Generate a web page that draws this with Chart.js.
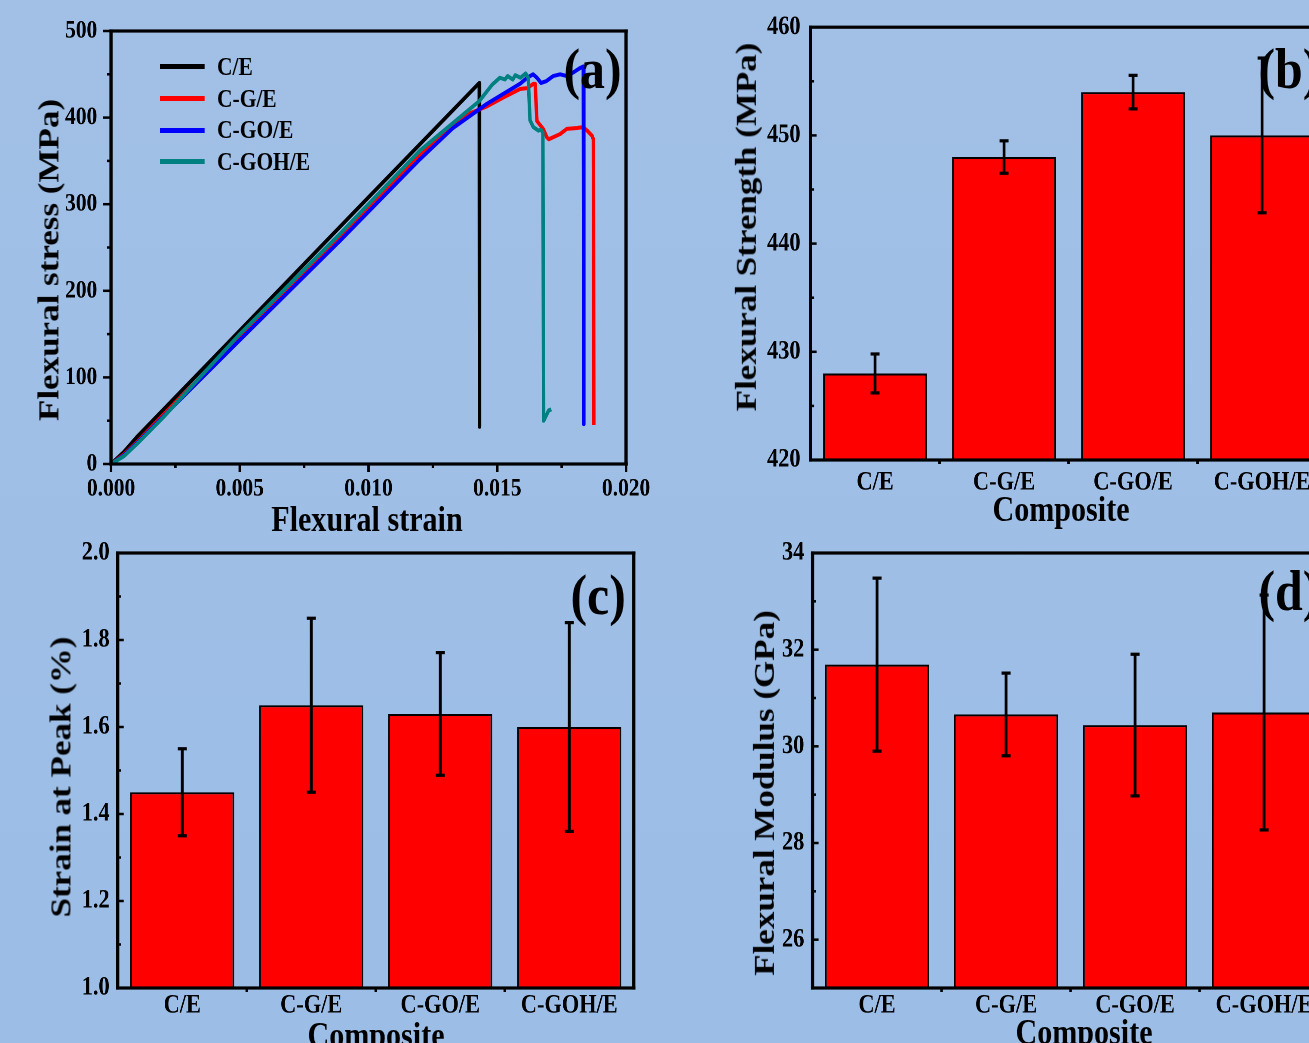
<!DOCTYPE html>
<html>
<head>
<meta charset="utf-8">
<script src="https://cdn.jsdelivr.net/npm/chart.js@4.4.1/dist/chart.umd.min.js"></script>
<style>
  html, body { margin:0; padding:0; }
  body { width:1309px; height:1043px; overflow:hidden; position:relative;
         background: linear-gradient(#a2c0e6, #9bbde6); }
  #fig { position:absolute; left:0; top:0; width:1700px; height:1100px;
         transform: scaleX(0.86); transform-origin: 0 0; }
  #fig canvas { position:absolute; }
  .t { position:absolute; font-family:'Liberation Serif','Times New Roman',serif; font-weight:bold;
       color:#000; line-height:1; white-space:nowrap; }
  .ln { position:absolute; }
</style>
</head>
<body>
<div id="fig"></div>
<script>
// ---------------- DATA ----------------
// (a) stress-strain curves
const strainCE   = [0, 0.0005, 0.001, 0.005, 0.010, 0.0143, 0.01431];
const stressCE   = [0, 14, 31, 154, 308, 440, 43];

const strainCGE  = [0, 0.0005, 0.001, 0.002, 0.005, 0.0089, 0.011, 0.012, 0.01328, 0.01394, 0.0146, 0.01522, 0.01588, 0.01616, 0.0164, 0.01647, 0.01654, 0.01678, 0.01693, 0.0170, 0.01744, 0.0177, 0.0181, 0.01833, 0.01849, 0.01868, 0.01873, 0.01875];
const stressCGE  = [0, 11, 25, 56, 146, 262, 327, 356, 393, 405, 413, 423, 433, 434, 439, 439, 396, 387, 377, 375, 381, 387, 388, 389, 385, 379, 375, 45];

const strainCGOE = [0, 0.0005, 0.001, 0.002, 0.005, 0.0089, 0.012, 0.01328, 0.0146, 0.01588, 0.01616, 0.01639, 0.01654, 0.0167, 0.0169, 0.01717, 0.01744, 0.0177, 0.01794, 0.0182, 0.01834, 0.01836];
const stressCGOE = [0, 10, 24, 54, 143, 258, 352, 388, 416, 439, 446, 450, 446, 440, 442, 448, 450, 448, 452, 457, 459, 46];

const strainCGOHE = [0, 0.0005, 0.001, 0.002, 0.005, 0.0089, 0.012, 0.0143, 0.0148, 0.0151, 0.0153, 0.0154, 0.0156, 0.0157, 0.0159, 0.0161, 0.0162, 0.01627, 0.0164, 0.0166, 0.0167, 0.01677, 0.0168, 0.0170, 0.0171];
const stressCGOHE = [0, 9, 23, 53, 150, 266, 362, 419, 438, 446, 444, 448, 444, 449, 446, 451, 446, 397, 389, 385, 386, 383, 50, 62, 63];

const seriesNames  = ['C/E', 'C-G/E', 'C-GO/E', 'C-GOH/E'];
const seriesColors = ['#000000', '#ff0000', '#0000ff', '#008080'];

const strainTicks      = [0, 0.005, 0.010, 0.015, 0.020];
const strainTickLabels = ['0.000', '0.005', '0.010', '0.015', '0.020'];
const strainMinor      = [0.0025, 0.0075, 0.0125, 0.0175];
const stressTicks      = [0, 100, 200, 300, 400, 500];
const stressTickLabels = ['0', '100', '200', '300', '400', '500'];
const stressMinor      = [50, 150, 250, 350, 450];

// (b)-(d) bar charts
const composites = ['C/E', 'C-G/E', 'C-GO/E', 'C-GOH/E'];

const strengthMean = [428, 448, 454, 450];
const strengthErr  = [1.8, 1.5, 1.55, 7.15];
const strengthTicks = [420, 430, 440, 450, 460];
const strengthTickLabels = ['420', '430', '440', '450', '460'];
const strengthMinor = [425, 435, 445, 455];

const peakStrainMean = [1.45, 1.65, 1.63, 1.60];
const peakStrainErr  = [0.10, 0.20, 0.141, 0.24];
const peakStrainTicks = [1.0, 1.2, 1.4, 1.6, 1.8, 2.0];
const peakStrainTickLabels = ['1.0', '1.2', '1.4', '1.6', '1.8', '2.0'];
const peakStrainMinor = [1.1, 1.3, 1.5, 1.7, 1.9];

const modulusMean = [31.69, 30.66, 30.44, 30.70];
const modulusErr  = [1.79, 0.855, 1.465, 2.43];
const modulusTicks = [26, 28, 30, 32, 34];
const modulusTickLabels = ['26', '28', '30', '32', '34'];
const modulusMinor = [27, 29, 31, 33];

// ---------------- LAYOUT HELPERS ----------------
const S = 0.86;
const FONT = "'Liberation Serif', 'Times New Roman', serif";
const fig = document.getElementById('fig');

function makeCanvas(rect) {
  const c = document.createElement('canvas');
  const w = Math.round(rect.w / S);
  c.width = w; c.height = rect.h;
  c.style.left = (rect.x / S) + 'px';
  c.style.top = rect.y + 'px';
  c.style.width = w + 'px'; c.style.height = rect.h + 'px';
  fig.appendChild(c);
  return c;
}
function geom(rect, area) {
  return {
    padding: { left: 0, top: area.t - rect.y, right: (rect.x + rect.w - area.r) / S, bottom: 0 },
    yWidth: (area.l - rect.x) / S,
    xHeight: rect.y + rect.h - area.b
  };
}
function decor(cfg) {
  return {
    id: 'decor',
    afterDraw(chart) {
      const ctx = chart.ctx, a = chart.chartArea, xs = chart.scales.x, ys = chart.scales.y;
      ctx.save();
      ctx.fillStyle = '#000';
      const tw = 2.5;
      const yTick = (v, len) => {
        const p = ys.getPixelForValue(v), L = len / S;
        ctx.fillRect(cfg.yIn ? a.left : a.left - L, p - tw / 2, L, tw);
      };
      (cfg.yMajor || []).forEach(v => yTick(v, cfg.majorLen));
      (cfg.yMinor || []).forEach(v => yTick(v, cfg.minorLen));
      const xTick = (p, len, dirIn) => {
        const w = tw / S;
        ctx.fillRect(p - w / 2, dirIn ? a.bottom - len : a.bottom, w, len);
      };
      (cfg.xMajor || []).forEach(v => xTick(xs.getPixelForValue(v), cfg.majorLen, cfg.xIn));
      (cfg.xMinor || []).forEach(v => xTick(xs.getPixelForValue(v), cfg.minorLen, cfg.xIn));
      if (cfg.catTicks) {
        const n = xs.ticks.length;
        for (let i = 0; i < n - 1; i++) {
          xTick((xs.getPixelForTick(i) + xs.getPixelForTick(i + 1)) / 2, 4, false);
        }
      }
      if (cfg.mean) {
        const meta = chart.getDatasetMeta(0);
        meta.data.forEach((bar, i) => {
          const x = bar.x;
          const top = ys.getPixelForValue(cfg.mean[i] + cfg.err[i]);
          const bot = ys.getPixelForValue(cfg.mean[i] - cfg.err[i]);
          const lw = 2.8 / S, cw = 9 / S;
          ctx.fillRect(x - lw / 2, top, lw, bot - top);
          ctx.fillRect(x - cw / 2, top - 1.6, cw, 3.2);
          ctx.fillRect(x - cw / 2, bot - 1.6, cw, 3.2);
        });
      }
      const fw = 3.2, hw = fw / S;
      ctx.fillRect(a.left - hw / 2, a.top - fw / 2, a.right - a.left + hw, fw);
      ctx.fillRect(a.left - hw / 2, a.bottom - fw / 2, a.right - a.left + hw, fw);
      ctx.fillRect(a.left - hw / 2, a.top - fw / 2, hw, a.bottom - a.top + fw);
      ctx.fillRect(a.right - hw / 2, a.top - fw / 2, hw, a.bottom - a.top + fw);
      ctx.restore();
    }
  };
}
function tickFont(size) { return { family: FONT, weight: 'bold', size: size }; }

// ---------------- PANEL (a) ----------------
(function () {
  const rect = { x: 0, y: 0, w: 700, h: 540 };
  const area = { l: 111, r: 626, t: 30, b: 464 };
  const g = geom(rect, area);
  const c = makeCanvas(rect);
  const strains = [strainCE, strainCGE, strainCGOE, strainCGOHE];
  const stresses = [stressCE, stressCGE, stressCGOE, stressCGOHE];
  const datasets = seriesNames.map((n, k) => ({
    label: n,
    data: strains[k].map((x, i) => ({ x: x, y: stresses[k][i] })),
    showLine: true, borderColor: seriesColors[k], backgroundColor: seriesColors[k],
    borderWidth: 4, pointRadius: 0, tension: 0, borderJoinStyle: 'round',
    order: 4 - k
  }));
  new Chart(c, {
    type: 'scatter',
    data: { datasets: datasets },
    options: {
      responsive: false, animation: false, devicePixelRatio: 2,
      layout: { padding: g.padding },
      plugins: { legend: { display: false }, tooltip: { enabled: false } },
      scales: {
        x: {
          type: 'linear', min: 0, max: 0.02,
          afterBuildTicks: s => { s.ticks = strainTicks.map(v => ({ value: v })); },
          afterFit: s => { s.height = g.xHeight; },
          grid: { display: false, drawTicks: false }, border: { display: false },
          ticks: { autoSkip: false, maxRotation: 0, padding: 10, color: '#000', font: tickFont(25),
                   callback: (v, i) => strainTickLabels[i] }
        },
        y: {
          type: 'linear', min: 0, max: 500,
          afterBuildTicks: s => { s.ticks = stressTicks.map(v => ({ value: v })); },
          afterFit: s => { s.width = g.yWidth; },
          grid: { display: false, drawTicks: false }, border: { display: false },
          ticks: { padding: 16, color: '#000', font: tickFont(25),
                   callback: (v, i) => stressTickLabels[i] }
        }
      }
    },
    plugins: [decor({ yIn: false, xIn: false, majorLen: 8, minorLen: 4,
                      yMajor: stressTicks, yMinor: stressMinor, xMajor: strainTicks, xMinor: strainMinor })]
  });
})();

// ---------------- BAR PANELS ----------------
function barPanel(rect, area, mean, err, yMin, yMax, ticks, labels, minor, yPad, xPad) {
  const g = geom(rect, area);
  const c = makeCanvas(rect);
  new Chart(c, {
    type: 'bar',
    data: { labels: composites,
            datasets: [{ data: mean, backgroundColor: '#ff0000', borderColor: '#000000',
                         borderWidth: 2, barPercentage: 0.806, categoryPercentage: 1.0 }] },
    options: {
      responsive: false, animation: false, devicePixelRatio: 2,
      layout: { padding: g.padding },
      plugins: { legend: { display: false }, tooltip: { enabled: false } },
      scales: {
        x: {
          type: 'category', offset: true,
          afterFit: s => { s.height = g.xHeight; },
          grid: { display: false, drawTicks: false }, border: { display: false },
          ticks: { autoSkip: false, maxRotation: 0, padding: xPad, color: '#000', font: tickFont(26) }
        },
        y: {
          type: 'linear', min: yMin, max: yMax,
          afterBuildTicks: s => { s.ticks = ticks.map(v => ({ value: v })); },
          afterFit: s => { s.width = g.yWidth; },
          grid: { display: false, drawTicks: false }, border: { display: false },
          ticks: { padding: yPad, color: '#000', font: tickFont(26), callback: (v, i) => labels[i] }
        }
      }
    },
    plugins: [decor({ yIn: true, majorLen: 6, minorLen: 3.5, yMajor: ticks, yMinor: minor,
                      catTicks: true, mean: mean, err: err })]
  });
}

barPanel({ x: 700, y: 0, w: 700, h: 540 }, { l: 810.5, r: 1326.5, t: 27, b: 460 },
         strengthMean, strengthErr, 420, 460, strengthTicks, strengthTickLabels, strengthMinor, 11.6, 7);
barPanel({ x: 0, y: 520, w: 700, h: 570 }, { l: 117.7, r: 633.7, t: 553, b: 988 },
         peakStrainMean, peakStrainErr, 1.0, 2.0, peakStrainTicks, peakStrainTickLabels, peakStrainMinor, 9.3, 2);
barPanel({ x: 700, y: 520, w: 700, h: 570 }, { l: 812.5, r: 1328.5, t: 553, b: 988 },
         modulusMean, modulusErr, 25, 34, modulusTicks, modulusTickLabels, modulusMinor, 9.6, 2);

// ---------------- TEXT (titles, labels, legend) ----------------
function txt(str, xPage, yTop, size) {
  const d = document.createElement('div');
  d.className = 't';
  d.textContent = str;
  d.style.left = (xPage / S) + 'px';
  d.style.top = yTop + 'px';
  d.style.fontSize = size + 'px';
  fig.appendChild(d);
  return d;
}
function ctxt(str, cx, cy, size, rot) {
  const d = txt(str, cx, cy, size);
  d.style.transform = 'translate(-50%,-50%)' + (rot ? ' rotate(-90deg)' : '');
  return d;
}
const TS = 35;
ctxt('Flexural stress (MPa)', 48, 259.5, TS, true);
ctxt('Flexural strain', 367, 519, TS, false);
ctxt('Flexural Strength (MPa)', 745.5, 227, TS, true);
ctxt('Composite', 1061, 509, TS, false);
ctxt('Strain at Peak (%)', 60.5, 777, TS, true);
ctxt('Composite', 376, 1034.5, TS, false);
ctxt('Flexural Modulus (GPa)', 763.5, 793, TS, true);
ctxt('Composite', 1084, 1031.5, TS, false);

const PL = 58;
txt('(a)', 563.5, 74 - 0.578 * PL, PL);
txt('(b)', 1258.5, 74 - 0.578 * PL, PL);
txt('(c)', 570.5, 599.5 - 0.578 * PL, PL);
txt('(d)', 1258.5, 595.5 - 0.578 * PL, PL);

// legend of panel (a)
const legendY = [66.7, 98.3, 130, 161.7];
seriesNames.forEach((n, k) => {
  const ln = document.createElement('div');
  ln.className = 'ln';
  ln.style.left = (160 / S) + 'px';
  ln.style.width = (45 / S) + 'px';
  ln.style.top = (legendY[k] - 2.5) + 'px';
  ln.style.height = '5px';
  ln.style.background = seriesColors[k];
  fig.appendChild(ln);
  txt(n, 217, legendY[k] - 0.5075 * 25, 25);
});
</script>
</body>
</html>
